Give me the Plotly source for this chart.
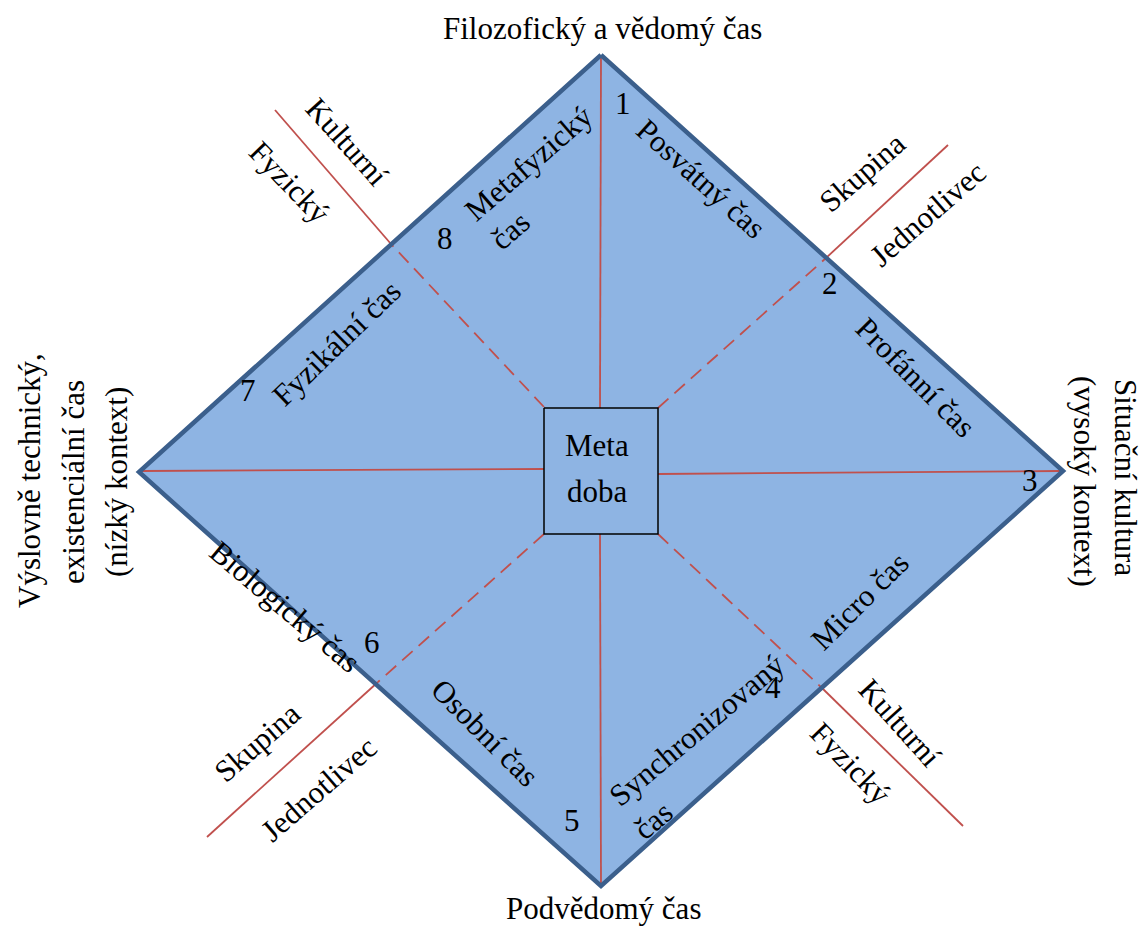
import plotly.graph_objects as go

# ---- diagram geometry (pixel-space coordinates of the diagram) ----
diamond_x = [601, 1063, 601, 139, 601]
diamond_y = [55, 471, 886, 472, 55]

box_x = [544, 658, 658, 544, 544]
box_y = [408, 408, 534, 534, 408]

# solid spokes (x0, y0, x1, y1)
solid_spokes = [
    (601, 57, 600, 408),
    (600, 534, 601, 884),
    (142, 471, 544, 469),
    (658, 474, 1060, 471),
    (391, 244, 275, 110),
    (826, 258, 948, 145),
    (378, 682, 207, 837),
    (822, 688, 963, 826),
]
# dashed spokes inside diamond
dashed_spokes = [
    (544, 407, 391, 244),
    (658, 408, 826, 258),
    (544, 534, 378, 682),
    (658, 534, 822, 688),
]

# ---- texts ----
label_text = [
    "Filozofický a vědomý čas", "Podvědomý čas",
    "Výslovně technický,", "existenciální čas", "(nízký kontext)",
    "Situační kultura", "(vysoký kontext)",
    "Metafyzický", "čas", "Posvátný čas", "Profánní čas", "Micro čas",
    "Synchronizovaný", "čas", "Osobní čas", "Biologický čas", "Fyzikální čas",
    "Kulturní", "Fyzický", "Skupina", "Jednotlivec",
    "Skupina", "Jednotlivec", "Kulturní", "Fyzický",
    "Meta", "doba",
    "1", "2", "3", "4", "5", "6", "7", "8",
]
label_x = [
    602, 603,
    29, 73, 116,
    1126, 1085,
    528, 510, 701, 916, 859,
    696, 653, 485, 285, 336,
    347, 290, 862, 927,
    257, 318, 900, 851,
    597, 597,
    623, 830, 1030, 773, 572, 372, 248, 445,
]
label_y = [
    28, 908,
    481, 482, 482,
    477, 481,
    163, 230, 178, 377, 601,
    730, 820, 732, 606, 343,
    141, 182, 172, 214,
    742, 789, 722, 763,
    445, 491,
    103, 283, 480, 687, 820, 642, 390, 238,
]
label_angle = [
    0, 0,
    -90, -90, -90,
    90, 90,
    -41, -41, 42, 45, -45,
    -40, -40, 45, 40, -44,
    48, 46, -41, -41,
    -41, -41, 48, 46,
    0, 0,
    0, 0, 0, 0, 0, 0, 0, 0,
]

FILL = "#8EB4E3"
EDGE = "#3B5F8C"
RED = "#C0504D"
FONT = "Liberation Serif"

fig = go.Figure()

# diamond fill
fig.add_trace(go.Scatter(x=diamond_x, y=diamond_y, mode="lines", fill="toself",
                         fillcolor=FILL, line=dict(color=FILL, width=0),
                         hoverinfo="skip", showlegend=False))

for x0, y0, x1, y1 in solid_spokes:
    fig.add_trace(go.Scatter(x=[x0, x1], y=[y0, y1], mode="lines",
                             line=dict(color=RED, width=1.8),
                             hoverinfo="skip", showlegend=False))
for x0, y0, x1, y1 in dashed_spokes:
    fig.add_trace(go.Scatter(x=[x0, x1], y=[y0, y1], mode="lines",
                             line=dict(color=RED, width=1.8, dash="14px,8px"),
                             hoverinfo="skip", showlegend=False))

# diamond border
fig.add_trace(go.Scatter(x=diamond_x, y=diamond_y, mode="lines",
                         line=dict(color=EDGE, width=4.5),
                         hoverinfo="skip", showlegend=False))

# center box
fig.add_trace(go.Scatter(x=box_x, y=box_y, mode="lines", fill="toself",
                         fillcolor=FILL, line=dict(color="black", width=1.5),
                         hoverinfo="skip", showlegend=False))

for t, x, y, a in zip(label_text, label_x, label_y, label_angle):
    fig.add_annotation(x=x, y=y, xref="x", yref="y", text=t, showarrow=False,
                       textangle=a, xanchor="center", yanchor="middle",
                       font=dict(family=FONT, size=31, color="black"))

fig.update_xaxes(range=[0, 1146], visible=False, showgrid=False, zeroline=False)
fig.update_yaxes(range=[926, 0], visible=False, showgrid=False, zeroline=False)
fig.update_layout(width=1146, height=926, margin=dict(l=0, r=0, t=0, b=0),
                  paper_bgcolor="white", plot_bgcolor="white")

fig.write_html("out.html", config={"displayModeBar": False},
               post_script="document.body.style.margin='0';document.body.style.overflow='hidden';")
